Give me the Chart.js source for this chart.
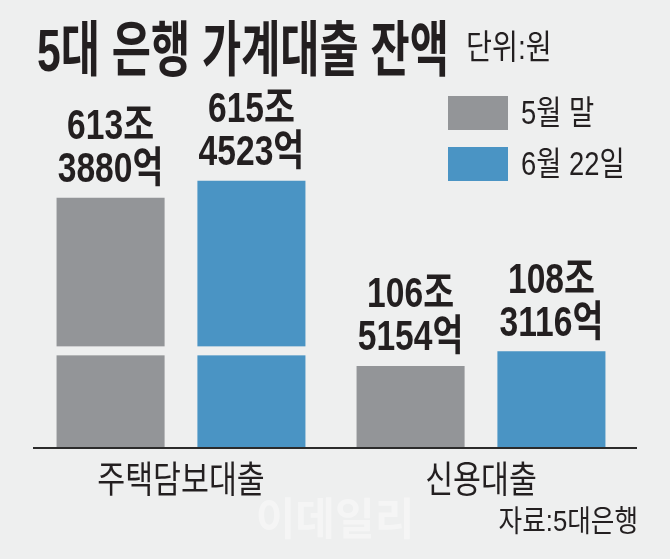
<!DOCTYPE html>
<html>
<head>
<meta charset="utf-8">
<script src="https://cdn.jsdelivr.net/npm/chart.js@4"></script>
<style>
  html, body { margin: 0; padding: 0; background: #eeefef; }
  #wrap { width: 670px; height: 559px; }
</style>
</head>
<body>
<div id="wrap"><canvas id="loan-chart" width="670" height="559"></canvas></div>
<script>
// 단위: 조원 (소수점 아래는 억원)
const categories = ['주택담보대출', '신용대출']
const seriesNames = ['5월 말', '6월 22일']
const endOfMay = [613.3880, 106.5154]
const june22 = [615.4523, 108.3116]

const chartTitle = '5대 은행 가계대출 잔액'
const unitText = '단위:원'
const sourceText = '자료:5대은행'

const BG = '#eeefef'
const INK = '#231f20'
const FONT = '"Liberation Sans", "Noto Sans CJK KR", sans-serif'

// linear scale with a squeezed-out middle part (axis break)
class BrokenLinearScale extends Chart.LinearScale {
    _squash(v) {
        const br = this.options.axisBreak
        if (v <= br.from) return v - this.min
        if (v >= br.to) return (br.from - this.min) + (v - br.to)
        return br.from - this.min
    }
    getPixelForValue(v) {
        const t = Math.max(0, this._squash(v)) / this._squash(this.max)
        return this.getPixelForDecimal(t)
    }
    getValueForPixel(p) {
        const br = this.options.axisBreak
        const d = this.getDecimalForPixel(p) * this._squash(this.max)
        const low = br.from - this.min
        return d <= low ? this.min + d : br.to + (d - low)
    }
}
BrokenLinearScale.id = 'brokenLinear'
BrokenLinearScale.defaults = Chart.LinearScale.defaults
Chart.register(BrokenLinearScale)

// draw text squeezed horizontally (condensed look)
function squeezeText(ctx, text, x, y, sx, align) {
    ctx.save()
    ctx.translate(x, y)
    ctx.scale(sx, 1)
    ctx.textAlign = align || 'left'
    ctx.textBaseline = 'alphabetic'
    ctx.fillText(text, 0, 0)
    ctx.restore()
}

function splitJoEok(v) {
    const jo = Math.floor(v)
    const eok = Math.round((v - jo) * 10000)
    return [jo + '조', eok + '억']
}

const decorPlugin = {
    id: 'decor',
    beforeDraw(chart) {
        const ctx = chart.ctx
        ctx.save()
        ctx.fillStyle = BG
        ctx.fillRect(0, 0, chart.width, chart.height)

        // watermark
        ctx.fillStyle = 'rgba(255,255,255,0.4)'
        ctx.font = 'bold 44px ' + FONT
        squeezeText(ctx, '이데일리', 335, 535, 0.98, 'center')

        ctx.fillStyle = INK
        ctx.font = 'bold 60px ' + FONT
        squeezeText(ctx, chartTitle, 37, 71, 0.71)
        ctx.font = '34px ' + FONT
        squeezeText(ctx, unitText, 466, 59, 0.83)
        ctx.font = '29.5px ' + FONT
        squeezeText(ctx, sourceText, 638, 531, 0.87, 'right')
        ctx.restore()
    },
    afterDatasetsDraw(chart) {
        const ctx = chart.ctx
        const y = chart.scales.y
        const x = chart.scales.x
        const br = y.options.axisBreak
        const breakPx = y.getPixelForValue(br.from)
        ctx.save()

        chart.data.datasets.forEach((ds, di) => {
            chart.getDatasetMeta(di).data.forEach((bar, i) => {
                // break gap on bars that pass the cut
                if (ds.data[i] > br.to) {
                    ctx.fillStyle = BG
                    ctx.fillRect(bar.x - bar.width / 2 - 1, breakPx - 4.5, bar.width + 2, 9)
                }
                // value labels
                const [l1, l2] = splitJoEok(ds.data[i])
                ctx.fillStyle = INK
                ctx.font = 'bold 42px ' + FONT
                squeezeText(ctx, l1, bar.x, bar.y - 58.5, 0.8, 'center')
                squeezeText(ctx, l2, bar.x, bar.y - 15.5, 0.8, 'center')
            })
        })

        // baseline
        ctx.strokeStyle = '#2b2b2b'
        ctx.lineWidth = 2
        ctx.beginPath()
        ctx.moveTo(33, y.bottom)
        ctx.lineTo(637, y.bottom)
        ctx.stroke()

        // category labels
        ctx.fillStyle = INK
        ctx.font = '37px ' + FONT
        categories.forEach((c, i) => {
            squeezeText(ctx, c, x.getPixelForValue(i), 493, 0.82, 'center')
        })

        // legend
        chart.data.datasets.forEach((ds, di) => {
            const top = 96 + di * 51
            ctx.fillStyle = ds.backgroundColor
            ctx.fillRect(448, top, 60, 34)
            ctx.fillStyle = INK
            ctx.font = '33px ' + FONT
            squeezeText(ctx, ds.label, 521, top + 28, 0.83)
        })
        ctx.restore()
    }
}

const chart = new Chart(document.getElementById('loan-chart'), {
    type: 'bar',
    data: {
        labels: categories,
        datasets: [
            {
                label: seriesNames[0],
                data: endOfMay,
                backgroundColor: '#939598'
            },
            {
                label: seriesNames[1],
                data: june22,
                backgroundColor: '#4a94c4'
            }
        ]
    },
    options: {
        responsive: false,
        animation: false,
        layout: {
            padding: { left: 31, right: 39, top: 100, bottom: 111 }
        },
        datasets: {
            bar: {
                barPercentage: 0.767,
                categoryPercentage: 0.939
            }
        },
        plugins: {
            legend: { display: false },
            title: { display: false },
            tooltip: { enabled: false }
        },
        scales: {
            x: {
                display: false,
                grid: { display: false }
            },
            y: {
                type: 'brokenLinear',
                display: false,
                min: 96.5,
                max: 625.3,
                axisBreak: { from: 108.35, to: 594.7 }
            }
        }
    },
    plugins: [decorPlugin]
})
</script>
</body>
</html>
